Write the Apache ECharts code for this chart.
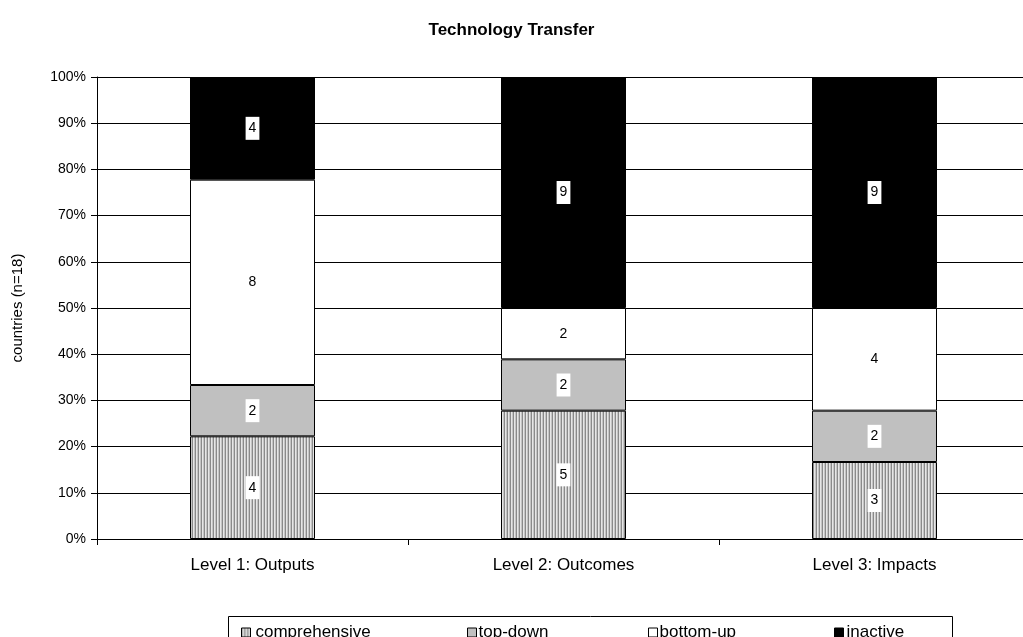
<!DOCTYPE html>
<html>
<head>
<meta charset="utf-8">
<script src="https://cdn.jsdelivr.net/npm/echarts@6/dist/echarts.min.js"></script>
<style>
html,body{margin:0;padding:0;background:#fff;}
#chart{width:1023px;height:637px;}
</style>
</head>
<body>
<div id="chart"></div>
<script>
const categories = ['Level 1: Outputs', 'Level 2: Outcomes', 'Level 3: Impacts'];
const seriesNames = ['comprehensive', 'top-down', 'bottom-up', 'inactive'];
const comprehensive = [4, 5, 3];
const topDown = [2, 2, 2];
const bottomUp = [8, 2, 4];
const inactive = [4, 9, 9];
const totalCountries = 18;
const yTicks = [0, 10, 20, 30, 40, 50, 60, 70, 80, 90, 100];

const FONT = '"Liberation Sans", Arial, sans-serif';

// vertical stripe pattern
const pc = document.createElement('canvas');
pc.width = 3; pc.height = 4;
const pctx = pc.getContext('2d');
pctx.fillStyle = '#e6e6e6'; pctx.fillRect(0, 0, 3, 4);
pctx.fillStyle = '#8a8a8a'; pctx.fillRect(0, 0, 1, 4);
pctx.fillStyle = '#c4c4c4'; pctx.fillRect(2, 0, 1, 4);
const stripe = { image: pc, repeat: 'repeat' };

const fills = [stripe, '#c0c0c0', '#ffffff', '#000000'];
const counts = [comprehensive, topDown, bottomUp, inactive];

const chart = echarts.init(document.getElementById('chart'), null, { renderer: 'canvas' });

const series = seriesNames.map((name, i) => ({
  name: name,
  type: 'bar',
  stack: 'total',
  barWidth: 125,
  data: counts[i].map(v => ({ value: v / totalCountries * 100, count: v })),
  itemStyle: { color: fills[i], borderColor: '#000', borderWidth: 1 },
  label: {
    show: true,
    position: 'inside',
    formatter: p => String(p.data.count),
    color: '#000',
    fontFamily: FONT,
    fontSize: 14,
    backgroundColor: '#fff',
    padding: [5, 3, 4, 3]
  },
  emphasis: { disabled: true }
}));

const legendX = [241, 467, 648, 834];
const legendTextPad = [0, -3, -3, -2];
const legends = seriesNames.map((n, i) => ({
  data: [{ name: n, itemStyle: { color: fills[i], borderColor: '#000', borderWidth: 1 } }],
  left: legendX[i],
  top: 624,
  itemWidth: 9,
  itemHeight: 9,
  itemGap: 0,
  padding: 0,
  icon: 'rect',
  textStyle: { fontFamily: FONT, fontSize: 17, color: '#000', padding: [0, 0, 0, legendTextPad[i]] },
  selectedMode: false
}));

chart.setOption({
  animation: false,
  backgroundColor: '#fff',
  title: {
    text: 'Technology Transfer',
    left: 'center',
    top: 17,
    textStyle: { fontFamily: FONT, fontSize: 17, fontWeight: 'bold', color: '#000' }
  },
  legend: legends,
  graphic: [{
    type: 'rect',
    shape: { x: 228.5, y: 616.5, width: 724, height: 40 },
    style: { fill: 'none', stroke: '#000', lineWidth: 1 },
    z: 0
  }],
  grid: { left: 97, top: 77, width: 933, height: 462, outerBoundsMode: 'none', containLabel: false },
  xAxis: {
    type: 'category',
    data: categories,
    boundaryGap: true,
    axisLine: { lineStyle: { color: '#000', width: 1 } },
    axisTick: { show: true, length: 6, lineStyle: { color: '#000' } },
    axisLabel: { fontFamily: FONT, fontSize: 17, color: '#000', margin: 18 }
  },
  yAxis: {
    type: 'value',
    min: 0,
    max: 100,
    interval: 10,
    name: 'countries (n=18)',
    nameLocation: 'middle',
    nameGap: 72,
    nameRotate: 90,
    nameTextStyle: { fontFamily: FONT, fontSize: 15, color: '#000' },
    axisLine: { show: true, lineStyle: { color: '#000', width: 1 } },
    axisTick: { show: true, length: 6, lineStyle: { color: '#000' } },
    axisLabel: {
      fontFamily: FONT, fontSize: 14, color: '#000', margin: 11,
      formatter: v => (yTicks.includes(v) ? v + '%' : '')
    },
    splitLine: { show: true, lineStyle: { color: '#000', width: 1 } }
  },
  series: series
});
</script>
</body>
</html>
